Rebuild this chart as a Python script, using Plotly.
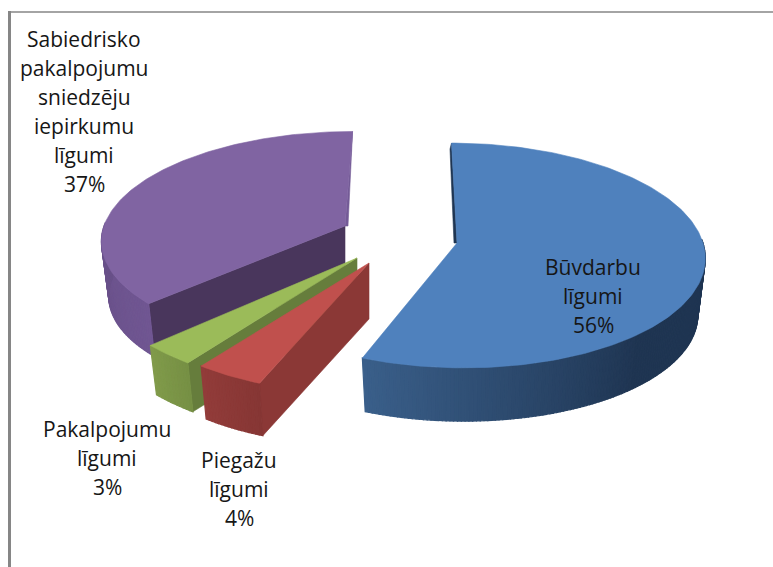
import numpy as np
import plotly.graph_objects as go

# Data
categories = ["Būvdarbu līgumi", "Piegāžu līgumi", "Pakalpojumu līgumi", "Sabiedrisko pakalpojumu sniedzēju iepirkumu līgumi"]
values = [56, 4, 3, 37]
label_lines = [
    ["Būvdarbu", "līgumi"],
    ["Piegažu", "līgumi"],
    ["Pakalpojumu", "līgumi"],
    ["Sabiedrisko", "pakalpojumu", "sniedzēju", "iepirkumu", "līgumi"],
]

# Styles / projection settings for each slice (same order as the data)
top_colors = ["#4F81BD", "#C0504D", "#9BBB59", "#8064A2"]
wall_colors = ["#1F3552", "#8B3836", "#667D3C", "#49365C"]
side_from = [(58, 95, 138), (146, 60, 58), (128, 155, 74), (104, 80, 136)]
side_to = [(31, 53, 82), (134, 54, 52), (118, 143, 68), (112, 86, 146)]
apex_px = [(457, 243), (369, 263), (357, 258), (345, 226)]
radius_x = [246, 252, 262, 241]
radius_y = [111, 116, 118, 105]
shear = [0.055, -0.05, 0.0, -0.08]
depth = [57, 56, 52, 55]
label_pos = [(593, 267), (239, 460), (107, 429), (84, 39)]
PERSPECTIVE = 0.111
SHRINK = 0.97
LINE_STEP = 29
FONT = "Open Sans"
FONT_SIZE = 21

fig = go.Figure()


def top_point(i, deg):
    t = np.radians(deg)
    u, v = np.sin(t), np.cos(t)
    s = 1 / (1 + PERSPECTIVE * v)
    ax, ay = apex_px[i]
    dy = -radius_y[i] * v * s
    return ax + radius_x[i] * u * s + shear[i] * dy, ay + dy


def bottom_point(i, deg):
    x, y = top_point(i, deg)
    ax, ay = apex_px[i]
    return ax + SHRINK * (x - ax), ay + depth[i] + SHRINK * (y - ay)


def apex_bottom(i):
    ax, ay = apex_px[i]
    return ax, ay + depth[i]


def poly(points, color, width=0.6):
    xs = [p[0] for p in points] + [points[0][0]]
    ys = [p[1] for p in points] + [points[0][1]]
    fig.add_trace(go.Scatter(x=xs, y=ys, mode="lines", fill="toself", fillcolor=color,
                             line=dict(color=color, width=width), hoverinfo="skip", showlegend=False))


def mix(a, b, t):
    return "rgb(%d,%d,%d)" % tuple(round(a[k] + (b[k] - a[k]) * t) for k in range(3))


starts = np.concatenate([[0], np.cumsum(values)[:-1]]) * 3.6
ends = np.cumsum(values) * 3.6


def draw_slice(i):
    a0, a1 = float(starts[i]), float(ends[i])
    # radial wall that faces the viewer
    if i == 0:
        # thin far wall of the first slice
        poly([top_point(i, a0), apex_px[i], (apex_px[i][0] - 3, apex_px[i][1]),
              (top_point(i, a0)[0] - 1.5, top_point(i, a0)[1] + 6)], wall_colors[i])
    elif i == 3:
        poly([top_point(i, a0), apex_px[i], apex_bottom(i), bottom_point(i, a0)], wall_colors[i])
        poly([top_point(i, a1), apex_px[i], (apex_px[i][0] + 3, apex_px[i][1])], "#735A96")
    else:
        poly([top_point(i, a0), apex_px[i], apex_bottom(i), bottom_point(i, a0)], wall_colors[i])
    # rim, in thin strips so that its shade changes along the curve
    lo = a0 if i != 0 else 88.0
    hi = a1 if i != 3 else 272.0
    edges = np.linspace(lo, hi, max(6, int((hi - lo) / 0.8)))
    for k in range(len(edges) - 1):
        mid = (edges[k] + edges[k + 1]) / 2
        t = (hi - mid) / (hi - lo)
        if i == 0:
            t = min(1.0, t / 0.55)
        color = mix(side_from[i], side_to[i], t)
        poly([top_point(i, edges[k]), top_point(i, edges[k + 1]),
              bottom_point(i, edges[k + 1]), bottom_point(i, edges[k])], color, 1.2)
    # top face
    angs = np.linspace(a0, a1, max(8, int(a1 - a0)))
    poly([apex_px[i]] + [top_point(i, float(a)) for a in angs], top_colors[i])


for i in [3, 2, 1, 0]:
    draw_slice(i)

# Labels
for i, lines in enumerate(label_lines):
    x, y = label_pos[i]
    for n, text in enumerate(lines + [f"{values[i]}%"]):
        fig.add_annotation(x=x, y=y + n * LINE_STEP, text=text, showarrow=False,
                           xanchor="center", yanchor="middle",
                           font=dict(family=FONT, size=FONT_SIZE, color="#161616"))

frame = "#868686"
fig.update_layout(
    width=773, height=567, autosize=False,
    margin=dict(l=0, r=0, t=0, b=0),
    paper_bgcolor="white", plot_bgcolor="white", showlegend=False,
    xaxis=dict(range=[0, 773], visible=False, fixedrange=True),
    yaxis=dict(range=[567, 0], visible=False, fixedrange=True),
    shapes=[
        dict(type="line", xref="x", yref="y", x0=9.5, x1=773, y0=12, y1=12, line=dict(color=frame, width=1.5)),
        dict(type="line", xref="x", yref="y", x0=9.5, x1=9.5, y0=11, y1=567, line=dict(color=frame, width=3)),
    ],
)
fig.write_html("out.html", config={"displayModeBar": False},
               post_script="document.body.style.margin='0';document.documentElement.style.overflow='hidden';")
